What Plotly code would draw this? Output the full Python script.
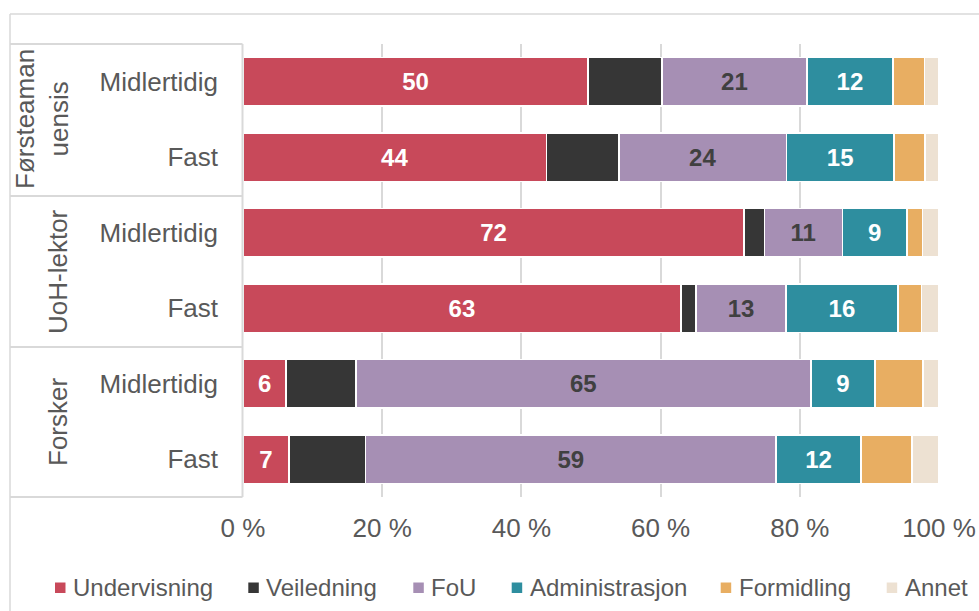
import plotly.graph_objects as go

# ---- data ----
groups = ["Førsteamanuensis", "Førsteamanuensis", "UoH-lektor", "UoH-lektor", "Forsker", "Forsker"]
group_labels = ["Førsteaman<br>uensis", "UoH-lektor", "Forsker"]
sub_labels = ["Midlertidig", "Fast", "Midlertidig", "Fast", "Midlertidig", "Fast"]
series_names = ["Undervisning", "Veiledning", "FoU", "Administrasjon", "Formidling", "Annet"]
undervisning = [49.6, 43.6, 72.0, 62.9, 6.2, 6.6]
veiledning = [10.6, 10.4, 2.9, 2.2, 10.0, 11.0]
fou = [20.8, 24.1, 11.2, 12.9, 65.4, 59.0]
administrasjon = [12.4, 15.4, 9.3, 16.1, 9.2, 12.2]
formidling = [4.5, 4.5, 2.2, 3.4, 6.9, 7.3]
annet = [2.1, 2.0, 2.4, 2.5, 2.3, 3.9]
x_ticks = [0, 20, 40, 60, 80, 100]
x_tick_labels = ["0 %", "20 %", "40 %", "60 %", "80 %", "100 %"]

series_values = [undervisning, veiledning, fou, administrasjon, formidling, annet]
colors = ["#C8495A", "#363636", "#A68FB4", "#2E8E9F", "#E8AE62", "#EDE1D2"]
label_colors = ["#FFFFFF", None, "#404040", "#FFFFFF", None, None]

cat_ids = [f"{g}|{s}|{i}" for i, (g, s) in enumerate(zip(groups, sub_labels))]

W, H = 979, 611
L, R, T, B = 243, 40, 44, 114
PW, PH = W - L - R, H - T - B

def px(x):
    return (x - L) / PW

def py(y):
    return (H - B - y) / PH

FONT = "Liberation Sans, Arial, sans-serif"
GRAY = "#595959"
LINE = "#D9D9D9"

fig = go.Figure()
for name, vals, col, lc in zip(series_names, series_values, colors, label_colors):
    if lc:
        kw = dict(texttemplate="<b>%{x:.0f}</b>", textposition="inside",
                  insidetextanchor="middle",
                  textfont=dict(family=FONT, size=24, color=lc))
    else:
        kw = dict(textposition="none")
    fig.add_trace(go.Bar(
        name=name, x=vals, y=cat_ids, orientation="h", showlegend=False,
        marker=dict(color=col, line=dict(color="#FFFFFF", width=1.5)),
        **kw))

shapes = []
# outer border (cropped)
shapes.append(dict(type="line", xref="paper", yref="paper", x0=px(10), x1=px(1000), y0=py(14), y1=py(14),
                   line=dict(color=LINE, width=1.5)))
shapes.append(dict(type="line", xref="paper", yref="paper", x0=px(10), x1=px(10), y0=py(14), y1=py(640),
                   line=dict(color=LINE, width=1.5)))
# category box
for yy in [44, 196, 347, 497]:
    shapes.append(dict(type="line", xref="paper", yref="paper", x0=px(10), x1=px(242.5), y0=py(yy), y1=py(yy),
                       line=dict(color=LINE, width=2)))
shapes.append(dict(type="line", xref="paper", yref="paper", x0=px(242.5), x1=px(242.5), y0=py(44), y1=py(497),
                   line=dict(color=LINE, width=2)))

annotations = []
group_pos = [(42, 119), (58, 271), (58, 422)]
for lab, (gx, gy) in zip(group_labels, group_pos):
    annotations.append(dict(text=lab, xref="paper", yref="paper", x=px(gx), y=py(gy),
                            xanchor="center", yanchor="middle", textangle=-90, showarrow=False,
                            font=dict(family=FONT, size=26, color=GRAY)))

# legend (drawn as keys + text)
legend_x = [55, 248.3, 413.3, 511.7, 720.7, 886.7]
for name, col, lx in zip(series_names, colors, legend_x):
    shapes.append(dict(type="rect", xref="paper", yref="paper", x0=px(lx), x1=px(lx + 10.5),
                       y0=py(593), y1=py(582.5), fillcolor=col, line=dict(width=0)))
    annotations.append(dict(text=name, xref="paper", yref="paper", x=px(lx + 16), y=py(587),
                            xanchor="left", yanchor="middle", showarrow=False,
                            font=dict(family=FONT, size=24, color=GRAY)))

fig.update_layout(
    width=W, height=H,
    margin=dict(l=L, r=R, t=T, b=B, pad=0, autoexpand=False),
    barmode="stack", bargap=0.364,
    paper_bgcolor="white", plot_bgcolor="white",
    font=dict(family=FONT, color=GRAY, size=26),
    showlegend=False,
    xaxis=dict(range=[0, 100], tickvals=x_ticks, ticktext=x_tick_labels,
               showgrid=True, gridcolor=LINE, gridwidth=2, zeroline=False,
               showline=False, ticks="", ticklabelstandoff=13,
               tickfont=dict(family=FONT, size=26, color=GRAY), fixedrange=True),
    yaxis=dict(type="category", autorange="reversed", tickvals=cat_ids, ticktext=sub_labels,
               showgrid=False, zeroline=False, showline=False, ticks="",
               ticklabelstandoff=24, fixedrange=True,
               tickfont=dict(family=FONT, size=26, color=GRAY)),
    shapes=shapes, annotations=annotations,
)

fig.write_html("out.html", config={"displayModeBar": False, "staticPlot": True},
               post_script="document.body.style.margin='0';document.body.style.overflow='hidden';")
